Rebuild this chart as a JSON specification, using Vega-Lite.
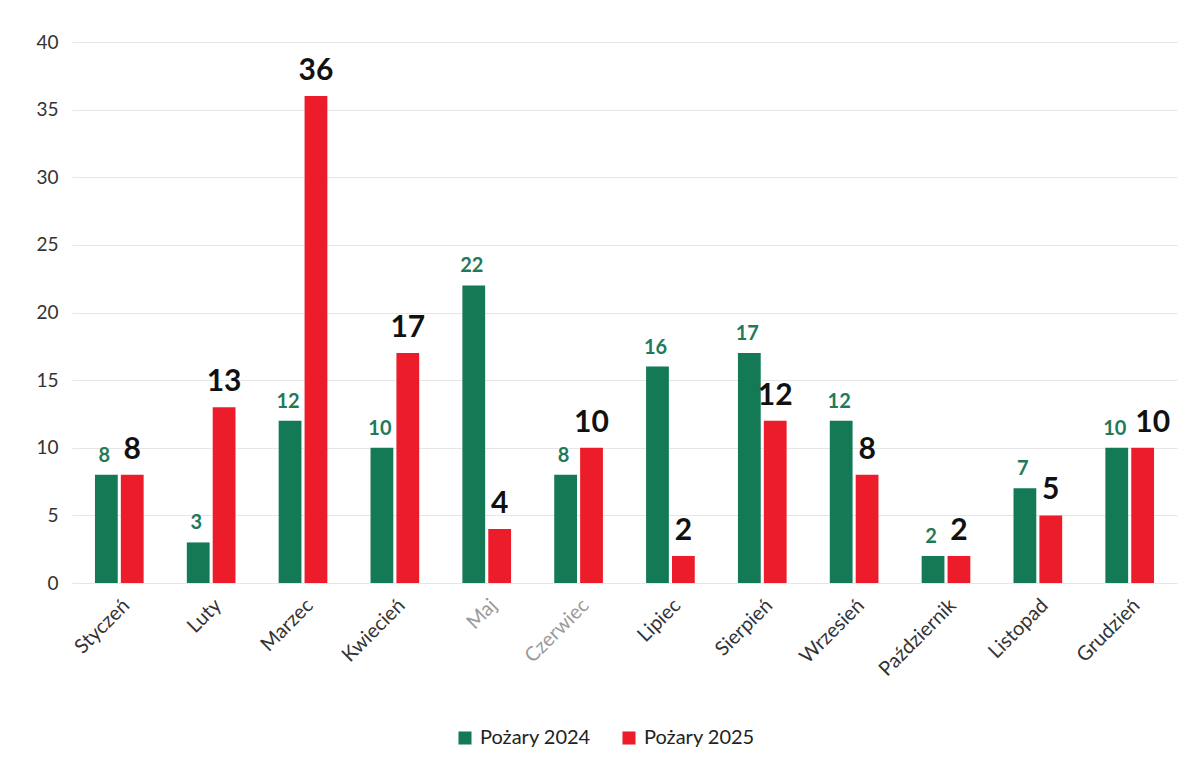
{
  "$schema": "https://vega.github.io/schema/vega-lite/v6.json",
  "autosize": {"type": "none"},
  "width": 1105,
  "height": 541,
  "padding": {"left": 72, "top": 42, "right": 21, "bottom": 189},
  "background": "white",
  "config": {
    "font": "Lato",
    "view": {"stroke": null}
  },
  "data": {
    "values": [
      {"miesiac": "Styczeń", "seria": "Pożary 2024", "wartosc": 8},
      {"miesiac": "Styczeń", "seria": "Pożary 2025", "wartosc": 8},
      {"miesiac": "Luty", "seria": "Pożary 2024", "wartosc": 3},
      {"miesiac": "Luty", "seria": "Pożary 2025", "wartosc": 13},
      {"miesiac": "Marzec", "seria": "Pożary 2024", "wartosc": 12},
      {"miesiac": "Marzec", "seria": "Pożary 2025", "wartosc": 36},
      {"miesiac": "Kwiecień", "seria": "Pożary 2024", "wartosc": 10},
      {"miesiac": "Kwiecień", "seria": "Pożary 2025", "wartosc": 17},
      {"miesiac": "Maj", "seria": "Pożary 2024", "wartosc": 22},
      {"miesiac": "Maj", "seria": "Pożary 2025", "wartosc": 4},
      {"miesiac": "Czerwiec", "seria": "Pożary 2024", "wartosc": 8},
      {"miesiac": "Czerwiec", "seria": "Pożary 2025", "wartosc": 10},
      {"miesiac": "Lipiec", "seria": "Pożary 2024", "wartosc": 16},
      {"miesiac": "Lipiec", "seria": "Pożary 2025", "wartosc": 2},
      {"miesiac": "Sierpień", "seria": "Pożary 2024", "wartosc": 17},
      {"miesiac": "Sierpień", "seria": "Pożary 2025", "wartosc": 12},
      {"miesiac": "Wrzesień", "seria": "Pożary 2024", "wartosc": 12},
      {"miesiac": "Wrzesień", "seria": "Pożary 2025", "wartosc": 8},
      {"miesiac": "Październik", "seria": "Pożary 2024", "wartosc": 2},
      {"miesiac": "Październik", "seria": "Pożary 2025", "wartosc": 2},
      {"miesiac": "Listopad", "seria": "Pożary 2024", "wartosc": 7},
      {"miesiac": "Listopad", "seria": "Pożary 2025", "wartosc": 5},
      {"miesiac": "Grudzień", "seria": "Pożary 2024", "wartosc": 10},
      {"miesiac": "Grudzień", "seria": "Pożary 2025", "wartosc": 10}
    ]
  },
  "encoding": {
    "x": {
      "field": "miesiac",
      "type": "nominal",
      "sort": null,
      "scale": {"paddingInner": 0.47, "paddingOuter": 0.25},
      "axis": {
        "title": null,
        "labelAngle": -45,
        "labelFontSize": 20,
        "labelColor": {"condition": {"test": "datum.value === 'Maj' || datum.value === 'Czerwiec'", "value": "#9a9a9a"}, "value": "#333333"},
        "labelPadding": 12,
        "domain": false,
        "ticks": false,
        "grid": false
      }
    },
    "xOffset": {"field": "seria", "type": "nominal", "scale": {"paddingInner": 0.12}},
    "y": {
      "field": "wartosc",
      "type": "quantitative",
      "scale": {"domain": [0, 40], "nice": false},
      "axis": {
        "title": null,
        "values": [0, 5, 10, 15, 20, 25, 30, 35, 40],
        "labelFontSize": 19,
        "labelColor": "#333333",
        "labelPadding": 14,
        "domain": false,
        "ticks": false,
        "gridColor": "#e6e6e6",
        "gridWidth": 1
      }
    }
  },
  "layer": [
    {
      "mark": {"type": "bar"},
      "encoding": {
        "color": {
          "field": "seria",
          "type": "nominal",
          "scale": {"domain": ["Pożary 2024", "Pożary 2025"], "range": ["#137a55", "#ec1c2a"]},
          "legend": {
            "title": null,
            "orient": "none",
            "direction": "horizontal",
            "legendX": 383,
            "legendY": 686,
            "symbolType": "square",
            "symbolSize": 170,
            "symbolStrokeWidth": 0,
            "labelFontSize": 20,
            "labelColor": "#222222",
            "labelOffset": 5,
            "columnPadding": 28
          }
        }
      }
    },
    {
      "transform": [{"filter": "datum.seria === 'Pożary 2024'"}],
      "mark": {"type": "text", "baseline": "bottom", "dy": -9, "dx": -2, "fontSize": 20, "fontWeight": "bold", "color": "#1f7a5a"},
      "encoding": {"text": {"field": "wartosc", "type": "quantitative"}}
    },
    {
      "transform": [{"filter": "datum.seria === 'Pożary 2025' && datum.miesiac !== 'Grudzień'"}],
      "mark": {"type": "text", "baseline": "bottom", "dy": -10, "fontSize": 30, "fontWeight": "bold", "color": "#111111"},
      "encoding": {"text": {"field": "wartosc", "type": "quantitative"}}
    },
    {
      "transform": [{"filter": "datum.seria === 'Pożary 2025' && datum.miesiac === 'Grudzień'"}],
      "mark": {"type": "text", "baseline": "bottom", "dy": -10, "dx": 10, "fontSize": 30, "fontWeight": "bold", "color": "#111111"},
      "encoding": {"text": {"field": "wartosc", "type": "quantitative"}}
    }
  ]
}
